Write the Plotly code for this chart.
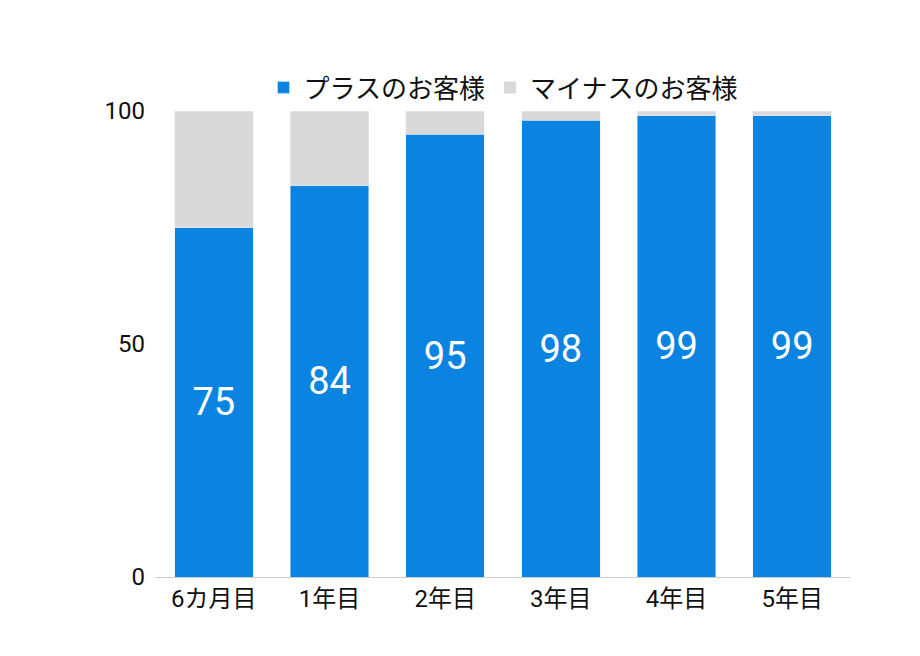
import plotly.graph_objects as go

categories = ["6カ月目", "1年目", "2年目", "3年目", "4年目", "5年目"]
plus = [75, 84, 95, 98, 99, 99]
minus = [25, 16, 5, 2, 1, 1]

font = "Roboto, Noto Sans CJK JP"

fig = go.Figure()
fig.add_trace(go.Bar(
    x=categories, y=plus, name="プラスのお客様", marker_color="#0b84e1",
    text=plus, textposition="inside", insidetextanchor="middle",
    textfont=dict(color="white", size=38, family=font),
))
fig.add_trace(go.Bar(
    x=categories, y=minus, name="マイナスのお客様", marker_color="#d9d9d9",
    hoverinfo="y",
))

fig.update_layout(
    barmode="stack", bargap=0.32,
    width=920, height=656,
    paper_bgcolor="white", plot_bgcolor="white",
    font=dict(family=font, size=24, color="#111"),
    margin=dict(l=148, r=78, t=103, b=87),
    legend=dict(orientation="h", x=0.5, xanchor="center", y=1.0, yanchor="bottom",
                font=dict(size=26), traceorder="normal", itemwidth=30),
    uniformtext=dict(minsize=10, mode="show"),
)
fig.update_xaxes(showline=True, linecolor="#ccc", linewidth=1, ticks="", tickfont=dict(size=24))
fig.update_yaxes(range=[0, 100], tickvals=[0, 50, 100], showgrid=False, zeroline=False,
                 ticklabelstandoff=10, tickfont=dict(size=24))

fig.write_html("out.html")
